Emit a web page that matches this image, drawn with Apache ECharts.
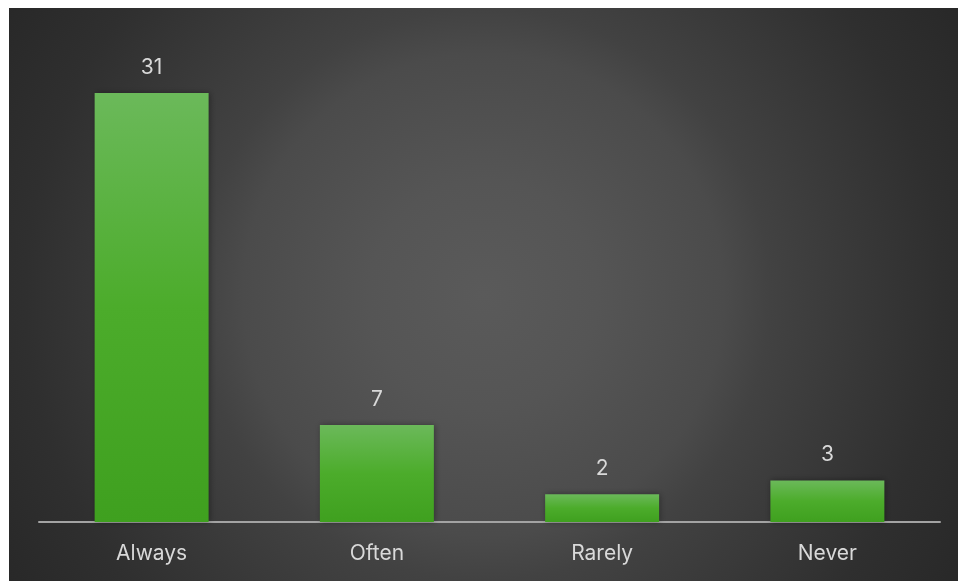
<!DOCTYPE html>
<html>
<head>
<meta charset="utf-8">
<script src="https://cdn.jsdelivr.net/npm/echarts@6/dist/echarts.min.js"></script>
<style>
  html, body { margin: 0; padding: 0; background: #ffffff; }
  #chart { position: absolute; left: 9px; top: 8px; width: 949px; height: 573px; }
</style>
</head>
<body>
<div id="chart"></div>
<script>
// Survey answer categories and their counts
const categories = ['Always', 'Often', 'Rarely', 'Never'];
const counts = [31, 7, 2, 3];

const chart = echarts.init(document.getElementById('chart'));

const barFill = new echarts.graphic.LinearGradient(0, 0, 0, 1, [
  { offset: 0, color: '#6bb95a' },
  { offset: 0.5, color: '#4cac2b' },
  { offset: 1, color: '#3fa01f' }
]);

chart.setOption({
  // soft spotlight in the middle fading to dark edges
  backgroundColor: {
    type: 'radial', x: 0.5, y: 0.5, r: 1,
    colorStops: [
      { offset: 0, color: '#5a5a5a' },
      { offset: 0.2, color: '#555555' },
      { offset: 0.42, color: '#4b4b4b' },
      { offset: 0.5, color: '#424242' },
      { offset: 0.8, color: '#2f2f2f' },
      { offset: 1, color: '#272727' }
    ]
  },
  animation: false,
  grid: { left: 30, right: 18, top: 29.6, bottom: 59, containLabel: false },
  xAxis: {
    type: 'category',
    data: categories,
    axisLine: { lineStyle: { color: '#a3a3a3', width: 2 } },
    axisTick: { show: false },
    axisLabel: {
      color: '#d9d9d9',
      fontSize: 21,
      fontFamily: 'Inter, "Open Sans", sans-serif',
      margin: 21
    }
  },
  yAxis: {
    type: 'value',
    min: 0,
    max: 35,
    show: false,
    splitLine: { show: false }
  },
  series: [{
    type: 'bar',
    data: counts,
    barWidth: '50.6%',
    z: 3,
    itemStyle: {
      color: barFill,
      shadowBlur: 6,
      shadowColor: 'rgba(0,0,0,0.35)',
      shadowOffsetX: 1,
      shadowOffsetY: 0
    },
    label: {
      show: true,
      position: 'top',
      distance: 15,
      color: '#d9d9d9',
      fontSize: 21,
      fontFamily: 'Inter, "Open Sans", sans-serif'
    }
  }]
});
</script>
</body>
</html>
